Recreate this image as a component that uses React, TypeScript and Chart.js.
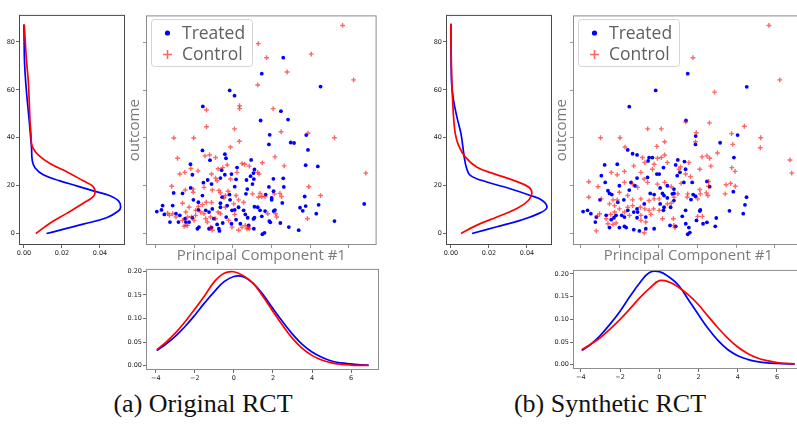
import React, { useEffect, useRef } from "react";
import { Chart, registerables } from "chart.js";
Chart.register(...registerables);

// ---------------- DATA ----------------
const seriesNames = ["Treated", "Control"];
const captions = ["(a) Original RCT", "(b) Synthetic RCT"];
const xTitle = "Principal Component #1";
const yTitle = "outcome";

const outcomeTicks = [0, 20, 40, 60, 80];
const outcomeDensTicks = [0, 0.02, 0.04];
const pcTicks = [-4, -2, 0, 2, 4, 6];
const pcDensTicks = [0, 0.05, 0.1, 0.15, 0.2];

// (a) Original RCT – scatter [PC1, outcome]
const treatedA: [number, number][] = [
  [2.60, 73.6], [1.49, 66.9], [-0.17, 59.9], [0.08, 57.7], [-1.56, 53.2], [2.48, 51.2], [2.85, 47.7], [1.43, 47.3], [4.53, 61.5], [1.90, 41.3], [3.79, 41.2],
  [1.86, 37.3], [2.99, 38.1], [3.16, 37.9], [3.88, 35.0], [0.94, 30.8], [3.76, 28.6], [4.39, 28.1], [1.11, 26.8], [1.06, 25.3], [0.91, 24.0], [1.08, 22.8], [2.09, 22.9], [2.60, 23.1], [1.01, 20.7], [1.86, 19.5], [2.63, 19.5], [2.10, 17.7], [1.69, 16.3], [2.00, 14.9], [2.00, 14.1], [3.71, 15.5], [2.55, 12.8], [1.11, 11.2], [1.28, 11.0], [1.40, 9.7], [1.66, 9.4], [2.10, 9.4], [2.17, 9.8], [3.47, 10.8], [3.76, 11.5], [3.61, 9.5], [4.43, 12.0], [4.31, 8.3], [1.11, 6.6], [1.06, 6.1], [1.49, 7.2], [1.88, 5.2], [1.93, 4.7], [2.45, 4.4], [2.89, 2.7], [3.40, 1.4], [5.25, 5.2], [6.79, 12.4], [1.52, -0.3], [1.63, 0.3], [1.08, 2.0],
  [-1.58, 34.8], [-2.20, 29.0], [-2.10, 24.6], [-1.19, 30.7], [-0.36, 31.5], [-0.42, 33.2], [0.21, 27.6], [-0.08, 24.9], [-0.59, 26.5], [-0.42, 24.6], [-1.31, 22.4], [-1.53, 21.3], [-1.11, 20.7], [-0.65, 23.2], [0.16, 22.7], [0.09, 19.6], [0.70, 22.4], [0.74, 18.6], [0.67, 16.6], [-3.07, 17.0], [-2.61, 16.8], [-3.12, 11.7], [-3.64, 11.7], [-3.70, 9.9], [-3.94, 9.2], [-3.55, 8.0], [-3.26, 4.8], [-2.95, 8.3], [-2.75, 7.6], [-2.48, 6.2], [-2.44, 4.8], [-2.27, 4.8], [-2.82, 4.8], [-2.10, 6.6], [-2.05, 14.1], [-1.79, 13.1], [-1.79, 9.9], [-1.58, 15.9], [-1.41, 9.7], [-1.07, 10.3], [-1.24, 9.0], [-0.56, 15.2], [-0.65, 12.7], [-0.65, 11.0], [-0.18, 16.3], [-0.15, 14.1], [-0.30, 11.7], [-0.05, 9.7], [0.09, 9.9], [0.29, 11.0], [0.55, 9.7], [-0.35, 6.9], [-0.53, 4.4], [-0.99, 6.2], [-0.82, 3.8], [-1.11, 2.5], [-1.24, 2.0], [-1.76, 2.7], [-1.84, 2.0], [-0.73, 2.0], [-0.70, 1.1], [-0.08, 4.1], [0.16, 5.8], [0.64, 8.0], [0.76, 6.6], [0.38, 4.1], [0.81, 3.4], [-2.19, 19.1],
];
const controlA: [number, number][] = [
  [5.67, 87.1], [1.31, 79.5], [1.74, 73.6], [4.05, 75.1], [2.80, 67.6], [1.28, 62.2], [6.24, 64.3], [0.34, 53.5], [0.34, 52.3], [-1.37, 51.7], [2.08, 52.3], [-1.37, 44.7], [0.08, 43.8], [2.49, 42.6], [3.88, 42.0], [5.25, 40.1], [-3.06, 40.0], [-2.03, 40.0],
  [2.17, 32.1], [1.52, 29.6], [2.65, 28.3], [0.84, 28.2], [1.28, 25.6], [1.35, 24.9], [6.87, 25.3], [3.92, 19.6], [4.53, 15.9], [1.40, 16.8], [1.49, 15.5], [1.32, 15.2], [1.66, 15.5], [2.43, 16.8], [2.51, 15.5], [2.14, 16.6], [1.01, 16.6], [1.80, 8.3], [2.21, 8.3], [2.26, 6.9], [3.85, 6.2], [0.80, 2.7], [0.84, 2.0],
  [-2.87, 31.5], [-2.18, 27.2], [-1.81, 26.2], [-2.49, 25.6], [-2.75, 24.9], [-1.21, 32.9], [-0.90, 31.8], [-1.45, 32.5], [-0.30, 28.7], [-0.53, 27.6], [-0.77, 27.1], [-1.11, 24.9], [-0.90, 23.2], [-0.82, 22.1], [-0.13, 22.8], [0.21, 25.6], [0.47, 29.3], [0.60, 29.0], [-0.13, 36.2], [0.33, 38.6], [-3.17, 19.8], [-2.47, 18.2], [-2.06, 18.6], [-2.06, 17.3], [-1.50, 19.3], [-1.07, 18.2], [-0.73, 18.0], [-0.65, 17.0], [-0.25, 17.7], [-0.39, 15.9], [-0.47, 14.9], [0.16, 15.9], [0.29, 14.1], [0.55, 13.1], [0.04, 12.4], [-0.39, 11.0], [-0.65, 8.3], [-2.61, 12.7], [-2.27, 11.0], [-1.79, 11.3], [-1.58, 12.1], [-1.38, 13.1], [-1.11, 13.0], [-1.93, 9.7], [-1.67, 9.0], [-1.50, 8.3], [-1.93, 7.6], [-2.15, 6.9], [-2.44, 9.0], [-2.35, 6.9], [-3.12, 8.3], [-2.95, 6.9], [-3.38, 8.5], [-3.29, 7.6], [-2.61, 5.5], [-2.53, 3.0], [-2.35, 3.4], [-2.01, 5.5], [-1.41, 6.2], [-1.33, 4.8], [-1.16, 6.9], [-0.90, 6.2], [-0.77, 9.0], [-0.22, 5.5], [0.09, 8.0], [-0.05, 2.7], [0.29, 1.4], [0.47, 2.7], [0.64, 3.4], [0.72, 2.0], [-1.16, 2.7], [-1.07, 1.4], [-2.44, 3.4],
];

// (b) Synthetic RCT – scatter [PC1, outcome]
const treatedB: [number, number][] = [
  [1.51, 66.9], [-0.14, 59.9], [4.55, 61.4], [-1.50, 53.1], [1.42, 47.3], [1.92, 40.8], [4.08, 41.2],
  [-1.58, 35.0], [-1.33, 33.4], [-1.10, 32.9], [-0.48, 31.8], [-0.31, 31.8], [-0.53, 30.4], [-2.77, 28.7], [-2.12, 29.0], [0.26, 27.6], [-2.94, 24.2], [-0.08, 24.9], [0.04, 24.9], [-0.56, 23.5], [-1.10, 23.2], [-2.74, 21.4], [-1.41, 21.4], [-2.01, 20.0], [-1.21, 20.0], [-1.50, 18.2], [0.09, 19.1], [0.46, 20.0], [-2.60, 17.9], [-2.52, 16.8], [-2.40, 16.3], [-3.01, 14.1], [-1.78, 14.1], [-2.09, 13.1], [-0.42, 16.8], [-0.22, 16.3], [0.21, 16.8], [0.29, 15.9], [0.46, 14.9], [0.72, 16.6], [0.09, 12.4], [0.29, 11.0], [0.26, 9.7], [0.63, 11.0], [-0.73, 12.4], [-1.10, 10.3], [-1.27, 9.0], [-1.07, 9.0], [-1.58, 9.7], [-3.88, 9.2], [-3.65, 9.7], [-3.48, 8.3], [-3.20, 6.9], [-3.25, 4.8], [-2.69, 7.6], [-2.43, 5.8], [-2.29, 6.6], [-2.18, 7.6], [-1.89, 7.6], [-1.75, 6.9], [-0.65, 6.9], [-1.10, 6.6], [-2.52, 2.5], [-2.01, 2.5], [-1.75, 3.0], [-1.66, 2.5], [-1.27, 1.6], [-0.98, 1.1], [-0.65, 2.0], [-0.22, 2.0], [0.60, 3.4],
  [1.91, 37.3], [3.18, 38.0], [3.89, 31.8], [1.00, 30.8], [1.34, 30.1], [0.89, 28.7], [1.40, 26.9], [1.11, 25.6], [0.97, 24.2], [1.31, 21.4], [1.74, 21.4], [2.50, 21.8], [2.64, 19.6], [0.80, 18.6], [0.80, 16.8], [3.86, 17.5], [1.79, 16.3], [1.91, 15.6], [1.68, 14.2], [4.54, 15.2], [0.80, 13.8], [4.46, 12.0], [1.40, 9.7], [2.16, 9.9], [2.13, 9.4], [3.66, 9.5], [2.98, 6.5], [4.37, 8.3], [1.23, 7.2], [1.96, 5.5], [2.50, 4.7], [2.30, 4.1], [1.41, 4.1], [1.57, 2.5], [2.93, 3.0], [1.62, 0.4], [1.51, -0.3], [0.89, 3.0],
];
const controlB: [number, number][] = [
  [5.69, 87.1], [1.78, 73.6], [6.25, 64.3], [2.89, 59.2], [1.41, 46.7], [-0.55, 43.8], [0.15, 43.8], [2.63, 46.3], [4.43, 44.9], [3.77, 41.8], [1.95, 42.2], [-2.98, 40.1], [-1.98, 40.1], [5.27, 40.1],
  [-1.72, 36.2], [-0.08, 36.5], [0.32, 38.4], [-0.82, 31.8], [-0.05, 31.5], [0.15, 31.8], [0.32, 32.9], [-0.70, 29.7], [-0.22, 29.0], [0.46, 29.7], [-2.43, 25.6], [-2.12, 24.6], [-1.75, 26.0], [-1.27, 28.3], [-0.90, 25.6], [-0.31, 26.9], [-3.59, 21.7], [-3.11, 19.6], [-2.01, 17.3], [-1.75, 21.4], [-1.33, 20.7], [-1.07, 19.3], [-0.73, 22.8], [-0.56, 21.4], [-0.05, 20.7], [0.32, 21.4], [0.66, 19.6], [-3.59, 15.2], [-2.94, 14.5], [-2.34, 14.1], [-2.12, 14.1], [-1.58, 15.9], [-1.33, 14.1], [-0.90, 14.5], [-0.48, 13.8], [-0.22, 14.5], [0.04, 14.5], [0.46, 12.4], [0.66, 12.7], [-2.52, 12.4], [-2.26, 11.7], [-2.01, 10.3], [-1.58, 11.0], [-1.33, 11.7], [-0.93, 11.0], [-0.70, 10.3], [-0.48, 9.7], [-0.25, 10.3], [0.04, 9.7], [-3.03, 8.3], [-3.14, 7.2], [-2.46, 8.0], [-2.26, 9.0], [-1.75, 9.0], [-1.49, 7.6], [-0.90, 7.6], [-0.39, 8.0], [-2.69, 6.2], [-2.60, 4.1], [-2.34, 3.8], [-2.18, 4.4], [-0.90, 5.5], [-0.65, 4.8], [0.21, 6.2], [-3.20, 1.1], [-0.73, 0.3], [0.77, 6.2],
  [1.91, 38.4], [3.83, 37.3], [5.25, 35.9], [2.25, 32.1], [2.50, 32.5], [2.64, 31.5], [3.04, 33.7], [1.57, 29.7], [1.14, 27.9], [1.06, 26.9], [2.13, 26.9], [2.70, 28.2], [3.78, 27.6], [3.95, 26.0], [6.78, 30.8], [6.87, 25.3], [1.40, 24.9], [1.65, 23.8], [1.17, 21.0], [2.59, 21.8], [2.59, 19.8], [3.49, 20.4], [3.72, 21.0], [3.96, 19.8], [2.13, 18.4], [2.16, 16.6], [2.47, 17.0], [2.55, 15.9], [3.44, 16.6], [1.51, 16.6], [1.00, 16.6], [1.48, 15.2], [2.02, 14.5], [0.80, 15.2], [2.02, 7.2], [2.26, 7.2], [0.80, 3.4], [0.85, 2.5],
];

// KDE of outcome, [density, outcome]
const outcomeKdeTreatedA: [number, number][] = [
  [0.0119, 0], [0.0312, 3.9], [0.0435, 6.6], [0.0497, 9.4], [0.0509, 11.1], [0.0497, 13.7], [0.0453, 15.8], [0.0365, 17.8], [0.0277, 19.9], [0.0189, 22.0], [0.0102, 24.5], [0.0058, 27.5], [0.0044, 30.3], [0.0040, 35.8], [0.0037, 38.6], [0.0028, 46.9], [0.0018, 55.2], [0.0009, 63.5], [0.0003, 71.8], [0.0001, 80.1], [0.0, 87.3],
];
const outcomeKdeControlA: [number, number][] = [
  [0.0063, 0], [0.0137, 4.3], [0.0225, 8.4], [0.0312, 12.6], [0.0365, 15.4], [0.0374, 17.1], [0.0365, 19.6], [0.0312, 22.0], [0.0225, 25.8], [0.0137, 29.2], [0.0076, 32.7], [0.0049, 35.5], [0.0040, 37.6], [0.0037, 41.7], [0.0032, 46.9], [0.0028, 55.2], [0.0023, 63.5], [0.0014, 71.8], [0.0007, 80.1], [0.0002, 87.3],
];
const outcomeKdeTreatedB: [number, number][] = [
  [0.0111, 0], [0.0242, 2.8], [0.0365, 5.5], [0.0461, 8.3], [0.0505, 10.8], [0.0479, 13.9], [0.0418, 15.9], [0.0312, 18.7], [0.0189, 21.5], [0.0102, 24.3], [0.0081, 27.7], [0.0070, 31.9], [0.0063, 36.1], [0.0053, 41.6], [0.0032, 48.5], [0.0014, 55.5], [0.0004, 62.4], [0.0001, 72.1], [0.0, 80.4], [0.0, 87.5],
];
const outcomeKdeControlB: [number, number][] = [
  [0.0053, 0], [0.0137, 3.5], [0.0242, 6.9], [0.0347, 10.4], [0.0409, 13.9], [0.0426, 16.9], [0.0409, 19.4], [0.0330, 22.2], [0.0225, 25.0], [0.0137, 27.7], [0.0076, 31.9], [0.0040, 36.8], [0.0023, 41.6], [0.0014, 48.5], [0.0009, 55.5], [0.0005, 62.4], [0.0002, 72.1], [0.0, 80.4], [0.0, 87.7],
];

// KDE of PC1
const pcGrid = [-3.95, -3.5, -3, -2.5, -2, -1.5, -1, -0.5, 0, 0.5, 1, 1.5, 2, 2.5, 3, 3.5, 4, 4.5, 5, 5.5, 6, 6.5, 6.9];
const pcKdeTreatedA = [0.032, 0.045, 0.062, 0.083, 0.107, 0.133, 0.157, 0.178, 0.189, 0.188, 0.174, 0.150, 0.121, 0.093, 0.067, 0.045, 0.029, 0.018, 0.010, 0.006, 0.004, 0.002, 0.0015];
const pcKdeControlA = [0.034, 0.049, 0.069, 0.093, 0.120, 0.148, 0.178, 0.196, 0.199, 0.190, 0.174, 0.146, 0.115, 0.085, 0.058, 0.037, 0.022, 0.012, 0.006, 0.003, 0.0015, 0.0008, 0.0005];
const pcKdeTreatedB = [0.031, 0.045, 0.065, 0.090, 0.118, 0.150, 0.180, 0.203, 0.205, 0.193, 0.174, 0.142, 0.110, 0.079, 0.053, 0.033, 0.020, 0.012, 0.007, 0.004, 0.003, 0.002, 0.0015];
const pcKdeControlB = [0.033, 0.045, 0.060, 0.079, 0.100, 0.123, 0.147, 0.168, 0.185, 0.182, 0.170, 0.153, 0.132, 0.106, 0.081, 0.058, 0.039, 0.025, 0.015, 0.009, 0.005, 0.003, 0.002];

// ---------------- STYLE / LAYOUT ----------------
const BLUE = "#0000ff";
const RED = "#ff0000";
const RED_T = "rgba(255,0,0,0.6)";
const tickFont = { family: "'DejaVu Sans', sans-serif", size: 6.5 };
const labelFont = "'Open Sans', sans-serif";

const framePlugin = {
  id: "frame",
  afterDatasetsDraw(chart: any, _a: any, o: any) {
    const { ctx, chartArea: a } = chart;
    ctx.save();
    ctx.strokeStyle = o.color || "#555";
    ctx.lineWidth = 1;
    ctx.strokeRect(a.left + 0.5, a.top + 0.5, a.right - a.left - 1, a.bottom - a.top - 1);
    ctx.restore();
  },
};

const boxLegendPlugin = {
  id: "boxLegend",
  afterDraw(chart: any, _a: any, o: any) {
    if (!o || !o.show) return;
    const { ctx, chartArea: a } = chart;
    const x = Math.round(a.left + o.x) + 0.5;
    const y = Math.round(a.top + o.y) + 0.5;
    ctx.save();
    ctx.beginPath();
    if (ctx.roundRect) ctx.roundRect(x, y, o.w, o.h, 3);
    else ctx.rect(x, y, o.w, o.h);
    ctx.fillStyle = "rgba(255,255,255,0.9)";
    ctx.fill();
    ctx.strokeStyle = "#d4d4d4";
    ctx.lineWidth = 1;
    ctx.stroke();
    ctx.font = `${o.fontSize}px ${labelFont}`;
    ctx.textBaseline = "middle";
    chart.data.datasets.forEach((ds: any, i: number) => {
      const cy = y + o.rows[i];
      const mx = x + o.markerX;
      if (ds.pointStyle === "cross") {
        ctx.strokeStyle = RED_T;
        ctx.lineWidth = 1.6;
        ctx.beginPath();
        ctx.moveTo(mx - 4.5, cy);
        ctx.lineTo(mx + 4.5, cy);
        ctx.moveTo(mx, cy - 4.5);
        ctx.lineTo(mx, cy + 4.5);
        ctx.stroke();
      } else {
        ctx.fillStyle = BLUE;
        ctx.beginPath();
        ctx.arc(mx, cy, 2.6, 0, Math.PI * 2);
        ctx.fill();
      }
      ctx.fillStyle = "#606060";
      ctx.fillText(ds.label, x + o.textX, cy + 1);
    });
    ctx.restore();
  },
};

function axis(p: {
  min: number; max: number; values: number[]; fixed: number; horizontal: boolean;
  fmt?: (v: number) => string; labels: boolean; tickColor: string; title?: string; titlePad?: number;
}) {
  return {
    type: "linear",
    min: p.min,
    max: p.max,
    afterBuildTicks: (s: any) => { s.ticks = p.values.map((v) => ({ value: v })); },
    afterFit: (s: any) => { if (p.horizontal) s.height = p.fixed; else s.width = p.fixed; },
    grid: { display: true, drawOnChartArea: false, drawTicks: true, tickLength: 3, tickColor: p.tickColor, tickWidth: 0.8 },
    border: { display: false },
    ticks: {
      display: p.labels, autoSkip: false, maxRotation: 0, padding: 1, color: "#222", font: tickFont,
      callback: (v: any) => (p.fmt ? p.fmt(Number(v)) : String(v)),
    },
    title: p.title
      ? { display: true, text: p.title, color: "#7a7a7a", font: { family: labelFont, size: 15, lineHeight: 1.2 },
          padding: p.horizontal ? { top: 0, bottom: p.titlePad } : { top: p.titlePad, bottom: 0 } }
      : { display: false },
  };
}

const fmtPc = (v: number) => (v < 0 ? "\u2212" + Math.abs(v) : String(v));
const fmt2 = (v: number) => v.toFixed(2);

const PT = 3, PR = 3;

function baseOptions(scales: any, plugins: any) {
  return {
    responsive: false,
    animation: false,
    events: [],
    layout: { padding: { top: PT, right: PR, left: 0, bottom: 0 } },
    plugins: { legend: { display: false }, tooltip: { enabled: false }, ...plugins },
    scales,
  };
}

function ChartBox({ frame, ml, mb, make }: { frame: { L: number; T: number; W: number; H: number }; ml: number; mb: number; make: () => any }) {
  const ref = useRef<HTMLCanvasElement>(null);
  const w = ml + frame.W + PR;
  const h = PT + frame.H + mb;
  useEffect(() => {
    const chart = new Chart(ref.current as HTMLCanvasElement, make());
    return () => chart.destroy();
  }, []);
  return (
    <canvas ref={ref} width={w} height={h}
      style={{ position: "absolute", left: frame.L - ml, top: frame.T - PT, width: w, height: h }} />
  );
}

type PanelDef = {
  dx: number;
  treated: [number, number][]; control: [number, number][];
  kdeOutT: [number, number][]; kdeOutC: [number, number][];
  kdePcT: number[]; kdePcC: number[];
  pcMin: number; pcMax: number;
  densYMin: number; densYMax: number;
  bottomT: number; bottomH: number;
  caption: string; captionX: number;
};

const panels: PanelDef[] = [
  { dx: 0, treated: treatedA, control: controlA, kdeOutT: outcomeKdeTreatedA, kdeOutC: outcomeKdeControlA,
    kdePcT: pcKdeTreatedA, kdePcC: pcKdeControlA, pcMin: -4.5, pcMax: 7.43, densYMin: -0.009, densYMax: 0.205,
    bottomT: 267, bottomH: 103, caption: captions[0], captionX: 203 },
  { dx: 427, treated: treatedB, control: controlB, kdeOutT: outcomeKdeTreatedB, kdeOutC: outcomeKdeControlB,
    kdePcT: pcKdeTreatedB, kdePcC: pcKdeControlB, pcMin: -4.4, pcMax: 7.48, densYMin: -0.0093, densYMax: 0.2087,
    bottomT: 268, bottomH: 101, caption: captions[1], captionX: 610 },
];

const Y_MIN = -4.8, Y_MAX = 91.3;
const pts = (arr: [number, number][]) => arr.map(([x, y]) => ({ x, y }));
const lineDs = (label: string, data: any[], color: string, order: number) => ({
  label, data, showLine: true, pointRadius: 0, borderColor: color, borderWidth: 1.7, tension: 0.4, fill: false, order,
});

function Panel({ p }: { p: PanelDef }) {
  const leftFrame = { L: 19 + p.dx, T: 13, W: 106, H: 232 };
  const scFrame = { L: 146 + p.dx, T: 13, W: 233, H: 232 };
  const botFrame = { L: 146 + p.dx, T: p.bottomT, W: 233, H: p.bottomH };

  const makeLeft = () => ({
    type: "scatter",
    data: { datasets: [
      lineDs(seriesNames[0], pts(p.kdeOutT), BLUE, 2),
      lineDs(seriesNames[1], pts(p.kdeOutC), RED, 1),
    ] },
    options: baseOptions({
      x: axis({ min: -0.0026, max: 0.0532, values: outcomeDensTicks, fixed: 12, horizontal: true, fmt: fmt2, labels: true, tickColor: "#444" }),
      y: axis({ min: Y_MIN, max: Y_MAX, values: outcomeTicks, fixed: 18, horizontal: false, labels: true, tickColor: "#444" }),
    }, { frame: { color: "#4a4a4a" } }),
    plugins: [framePlugin],
  });

  const makeScatter = () => ({
    type: "scatter",
    data: { datasets: [
      { label: seriesNames[0], data: pts(p.treated), pointStyle: "circle", pointRadius: 1.9, backgroundColor: BLUE, borderWidth: 0, order: 2 },
      { label: seriesNames[1], data: pts(p.control), pointStyle: "cross", pointRadius: 2.4, borderColor: RED_T, backgroundColor: RED_T, borderWidth: 1.4, order: 1 },
    ] },
    options: baseOptions({
      x: axis({ min: p.pcMin, max: p.pcMax, values: pcTicks, fixed: 22, horizontal: true, labels: false, tickColor: "#777", title: xTitle, titlePad: 2 }),
      y: axis({ min: Y_MIN, max: Y_MAX, values: outcomeTicks, fixed: 22, horizontal: false, labels: false, tickColor: "#777", title: yTitle, titlePad: 2 }),
    }, {
      frame: { color: "#8c8c8c" },
      boxLegend: { show: true, x: 4.5, y: 4, w: 101, h: 47, rows: [13.5, 35], markerX: 16, textX: 30.5, fontSize: 17.5 },
    }),
    plugins: [framePlugin, boxLegendPlugin],
  });

  const makeBottom = () => ({
    type: "scatter",
    data: { datasets: [
      lineDs(seriesNames[0], p.kdePcT.map((y, i) => ({ x: pcGrid[i], y })), BLUE, 2),
      lineDs(seriesNames[1], p.kdePcC.map((y, i) => ({ x: pcGrid[i], y })), RED, 1),
    ] },
    options: baseOptions({
      x: axis({ min: p.pcMin, max: p.pcMax, values: pcTicks, fixed: 12, horizontal: true, fmt: fmtPc, labels: true, tickColor: "#444" }),
      y: axis({ min: p.densYMin, max: p.densYMax, values: pcDensTicks, fixed: 21, horizontal: false, fmt: fmt2, labels: true, tickColor: "#444" }),
    }, { frame: { color: "#8c8c8c" } }),
    plugins: [framePlugin],
  });

  return (
    <>
      <ChartBox frame={leftFrame} ml={18} mb={12} make={makeLeft} />
      <ChartBox frame={scFrame} ml={22} mb={22} make={makeScatter} />
      <ChartBox frame={botFrame} ml={21} mb={12} make={makeBottom} />
      <div style={{
        position: "absolute", left: p.captionX - 150, top: 391, width: 300, textAlign: "center",
        fontFamily: "'Liberation Serif', serif", fontSize: 26, lineHeight: "26px", color: "#111",
        whiteSpace: "nowrap",
      }}>{p.caption}</div>
    </>
  );
}

export default function App() {
  return (
    <div style={{ position: "fixed", left: 0, top: 0, width: 797, height: 424, overflow: "hidden", background: "#fff" }}>
      {panels.map((p, i) => <Panel key={i} p={p} />)}
    </div>
  );
}
